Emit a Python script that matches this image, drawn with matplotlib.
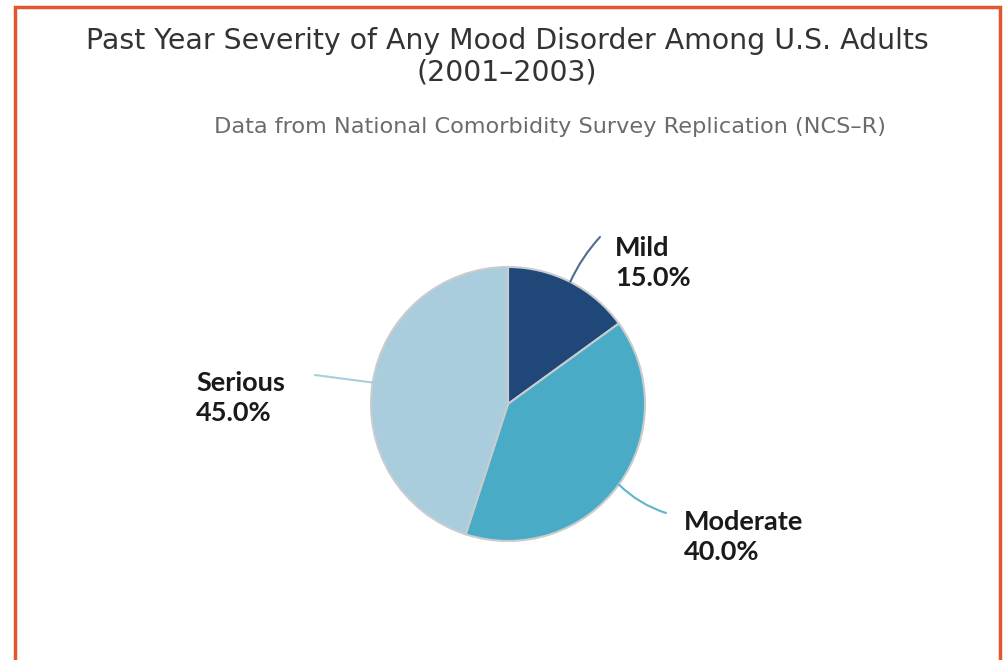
import matplotlib
matplotlib.use("Agg")
import matplotlib.pyplot as plt
from matplotlib.patches import Rectangle
import numpy as np

categories = ["Mild", "Moderate", "Serious"]
values = [15.0, 40.0, 45.0]
colors = ["#1F4777", "#4AABC6", "#A9CDDD"]
line_colors = ["#4E6C92", "#5FB5CC", "#A9CDDD"]

W, H = 1006, 660
fig = plt.figure(figsize=(W / 100, H / 100), dpi=100)
ax = fig.add_axes([0, 0, 1, 1])

def py(y):
    return H - y

cx, cy, r = 508, py(404), 137
wedges, _ = ax.pie(values, colors=colors, startangle=90, counterclock=False,
                   center=(cx, cy), radius=r, frame=True,
                   wedgeprops=dict(edgecolor="#C8CCCF", linewidth=1.5))
ax.set_xlim(0, W)
ax.set_ylim(0, H)
ax.axis("off")

# label anchors (layout)
ends = {"Mild": (600, 237), "Moderate": (666, 513), "Serious": (315, 375)}
text_pos = {"Mild": (615, 263), "Moderate": (684, 537), "Serious": (196, 398)}
rads = {"Mild": -0.08, "Moderate": 0.12, "Serious": 0.0}

label_font = ["Lato", "DejaVu Sans"]
for w, cat, val, lc in zip(wedges, categories, values, line_colors):
    ang = np.deg2rad((w.theta1 + w.theta2) / 2)
    sx, sy = cx + r * np.cos(ang), cy + r * np.sin(ang)
    ex, ey = ends[cat]
    ax.annotate("", xy=(ex, py(ey)), xytext=(sx, sy),
                arrowprops=dict(arrowstyle="-", color=lc, lw=1.5,
                                connectionstyle=f"arc3,rad={rads[cat]}",
                                shrinkA=0, shrinkB=0))
    tx, ty = text_pos[cat]
    ax.text(tx, py(ty), f"{cat}\n{val:.1f}%", ha="left", va="center",
            fontsize=19.5, fontweight="bold", family=label_font,
            color="#1A1A1A", linespacing=1.3)

title_font = ["DejaVu Sans"]
t1 = fig.text(507 / W, 1 - 49 / H, "Past Year Severity of Any Mood Disorder Among U.S. Adults",
              ha="center", va="baseline", fontsize=20, family=title_font, color="#333333")
t2 = fig.text(507 / W, 1 - 80 / H, "(2001–2003)",
              ha="center", va="baseline", fontsize=20, family=title_font, color="#333333")
t3 = fig.text(550 / W, 1 - 133 / H, "Data from National Comorbidity Survey Replication (NCS–R)",
              ha="center", va="baseline", fontsize=16, family=title_font, color="#6B6B6B")

# fit widths
fig.canvas.draw()
rend = fig.canvas.get_renderer()
def fit(t, target):
    wpx = t.get_window_extent(rend).width
    t.set_fontsize(t.get_fontsize() * target / wpx)
fit(t1, 843)
t2.set_fontsize(t1.get_fontsize())
fit(t3, 671)

# border
fig.patches.append(Rectangle((15 / W, -0.1), (1000 - 15) / W, (H - 7) / H + 0.1,
                             transform=fig.transFigure, fill=False,
                             edgecolor="#E4572E", linewidth=2.5))

fig.savefig("out.png", dpi=100)
